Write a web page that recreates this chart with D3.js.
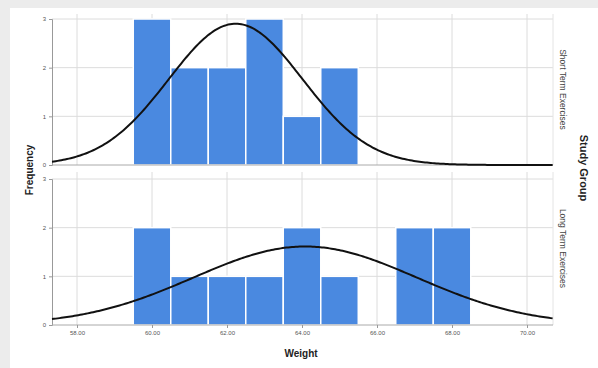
<!DOCTYPE html>
<html>
<head>
<meta charset="utf-8">
<script src="https://cdn.jsdelivr.net/npm/d3@7"></script>
<style>
  body { margin: 0; background: #fff; }
  svg { display: block; font-family: "Liberation Sans", Arial, sans-serif; }
</style>
</head>
<body>
<div id="chart"></div>
<script>
// bin centres (bin width 1) and counts per group
var binCenters = [60, 61, 62, 63, 64, 65, 66, 67, 68];
var shortTerm = [3, 2, 2, 3, 1, 2, 0, 0, 0];
var longTerm = [2, 1, 1, 1, 2, 1, 0, 2, 2];
var groups = ["Short Term Exercises", "Long Term Exercises"];
var xTicks = [58, 60, 62, 64, 66, 68, 70];
var yTicks = [0, 1, 2, 3];

var W = 598, H = 368;
var svg = d3.select("#chart").append("svg").attr("width", W).attr("height", H);

// grey page frame at top and left
svg.append("rect").attr("x", 0).attr("y", 0).attr("width", W).attr("height", 8).attr("fill", "#ececec");
svg.append("rect").attr("x", 0).attr("y", 0).attr("width", 10).attr("height", H).attr("fill", "#ececec");

var x = d3.scaleLinear().domain([57.333, 70.693]).range([52, 553]);
var panels = [
    { name: groups[0], counts: shortTerm, top: 19, bottom: 165, frameTop: 14 },
    { name: groups[1], counts: longTerm, top: 179, bottom: 325, frameTop: 172 }
];

function stats(counts) {
    var n = d3.sum(counts);
    var mean = d3.sum(counts, function(c, i) { return c * binCenters[i]; }) / n;
    var ss = d3.sum(counts, function(c, i) { return c * Math.pow(binCenters[i] - mean, 2); });
    return { n: n, mean: mean, sd: Math.sqrt(ss / (n - 1)) };
}

panels.forEach(function(p) {
    var y = d3.scaleLinear().domain([0, 3]).range([p.bottom, p.top]);
    var g = svg.append("g");

    // grid
    g.selectAll(".vg").data(xTicks).enter().append("line")
        .attr("x1", function(d) { return x(d); }).attr("x2", function(d) { return x(d); })
        .attr("y1", p.frameTop).attr("y2", p.bottom)
        .attr("stroke", "#dcdcdc").attr("stroke-width", 1);
    g.selectAll(".hg").data(yTicks.slice(1)).enter().append("line")
        .attr("x1", 52).attr("x2", 553)
        .attr("y1", function(d) { return y(d); }).attr("y2", function(d) { return y(d); })
        .attr("stroke", "#dcdcdc").attr("stroke-width", 1);
    g.append("line").attr("x1", 553).attr("x2", 553).attr("y1", p.frameTop).attr("y2", p.bottom)
        .attr("stroke", "#e4e4e4");

    // bars
    g.selectAll(".bar").data(binCenters.map(function(c, i) { return { c: c, v: p.counts[i] }; })
            .filter(function(d) { return d.v > 0; }))
        .enter().append("rect")
        .attr("x", function(d) { return x(d.c - 0.5); })
        .attr("width", function(d) { return x(d.c + 0.5) - x(d.c - 0.5); })
        .attr("y", function(d) { return y(d.v); })
        .attr("height", function(d) { return y(0) - y(d.v); })
        .attr("fill", "#4a89e0").attr("stroke", "#fff").attr("stroke-width", 1.5);

    // axes
    var yAxis = d3.axisLeft(y).tickValues(yTicks).tickSize(3).tickFormat(d3.format("d"));
    var ya = g.append("g").attr("transform", "translate(52,0)").call(yAxis);
    ya.select(".domain").attr("stroke", "#999");
    ya.selectAll(".tick line").attr("stroke", "#999");
    ya.selectAll("text").attr("font-size", 6).attr("fill", "#555");
    g.append("line").attr("x1", 52).attr("x2", 553).attr("y1", p.bottom).attr("y2", p.bottom)
        .attr("stroke", "#aaa");

    // normal curve
    var s = stats(p.counts);
    var pts = d3.range(57.333, 70.70, 0.05).map(function(v) {
        var z = (v - s.mean) / s.sd;
        return [v, s.n / (s.sd * Math.sqrt(2 * Math.PI)) * Math.exp(-0.5 * z * z)];
    });
    g.append("path").datum(pts)
        .attr("d", d3.line().x(function(d) { return x(d[0]); }).y(function(d) { return y(d[1]); }))
        .attr("fill", "none").attr("stroke", "#111").attr("stroke-width", 2);

    // panel label
    var cy = (p.frameTop + p.bottom) / 2;
    svg.append("text").attr("transform", "translate(560," + cy + ") rotate(90)")
        .attr("text-anchor", "middle").attr("font-size", 8.5).attr("fill", "#444").text(p.name);
});

var xAxis = d3.axisBottom(x).tickValues(xTicks).tickSize(3).tickFormat(d3.format(".2f"));
var xa = svg.append("g").attr("transform", "translate(0,325)").call(xAxis);
xa.select(".domain").remove();
xa.selectAll(".tick line").attr("stroke", "#999");
xa.selectAll("text").attr("font-size", 6).attr("fill", "#555");

svg.append("text").attr("x", 301).attr("y", 357).attr("text-anchor", "middle")
    .attr("font-size", 10).attr("font-weight", "bold").attr("fill", "#222").text("Weight");
svg.append("text").attr("transform", "translate(33,170) rotate(-90)").attr("text-anchor", "middle")
    .attr("font-size", 10).attr("font-weight", "bold").attr("fill", "#222").text("Frequency");
svg.append("text").attr("transform", "translate(580,168) rotate(90)").attr("text-anchor", "middle")
    .attr("font-size", 11).attr("font-weight", "bold").attr("fill", "#222").text("Study Group");
</script>
</body>
</html>
